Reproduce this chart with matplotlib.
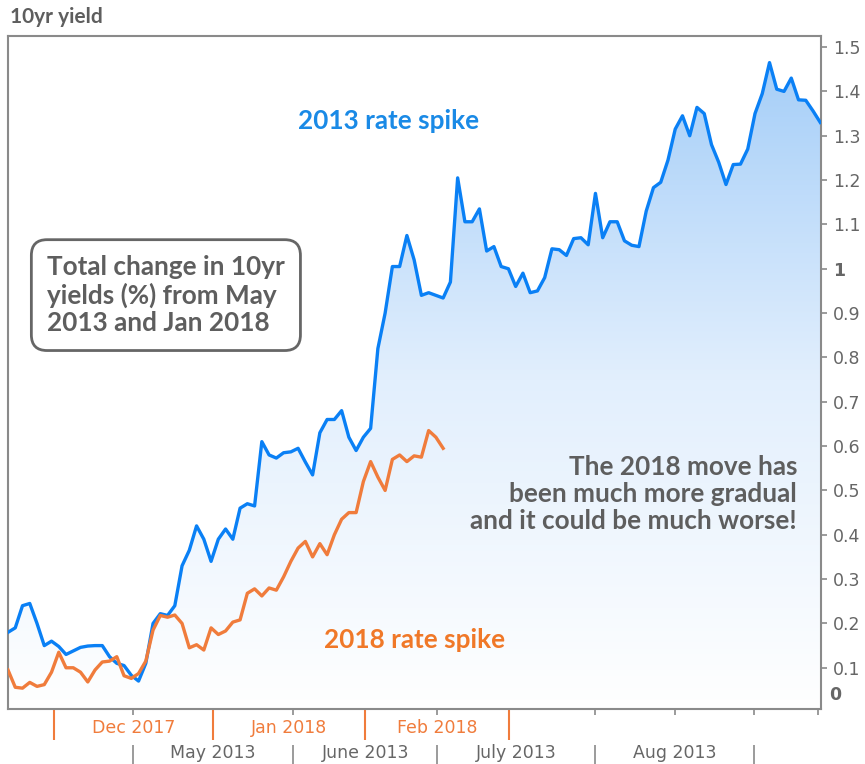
import numpy as np
import matplotlib
matplotlib.use('Agg')
import matplotlib.pyplot as plt
import matplotlib.transforms as mtransforms
from matplotlib.colors import LinearSegmentedColormap
from matplotlib.patches import PathPatch

# 10yr yield change (%) per trading day
blue_2013 = [
    0.18, 0.19, 0.24, 0.245, 0.20, 0.15, 0.16, 0.148, 0.13, 0.138,
    0.146, 0.149, 0.15, 0.15, 0.125, 0.11, 0.105, 0.083, 0.07, 0.11,
    0.20, 0.222, 0.218, 0.24, 0.33, 0.365, 0.42, 0.39, 0.34, 0.39,
    0.413, 0.39, 0.46, 0.47, 0.465, 0.61, 0.58, 0.573, 0.585, 0.587,
    0.595, 0.564, 0.535, 0.63, 0.66, 0.66, 0.68, 0.62, 0.59, 0.62,
    0.64, 0.82, 0.90, 1.005, 1.005, 1.075, 1.02, 0.94, 0.946, 0.94,
    0.934, 0.97, 1.205, 1.106, 1.106, 1.135, 1.04, 1.05, 1.005, 1.0,
    0.96, 0.99, 0.946, 0.95, 0.98, 1.045, 1.043, 1.03, 1.068, 1.07,
    1.054, 1.17, 1.07, 1.106, 1.106, 1.063, 1.053, 1.05, 1.13, 1.183,
    1.195, 1.245, 1.315, 1.345, 1.30, 1.364, 1.35, 1.28, 1.24, 1.19,
    1.235, 1.236, 1.27, 1.35, 1.395, 1.465, 1.405, 1.40, 1.43, 1.381,
    1.38, 1.356, 1.33,
]
orange_2018 = [
    0.095, 0.056, 0.054, 0.067, 0.058, 0.062, 0.09, 0.135, 0.10, 0.10,
    0.09, 0.068, 0.095, 0.113, 0.115, 0.125, 0.082, 0.076, 0.087, 0.115,
    0.185, 0.218, 0.214, 0.219, 0.20, 0.145, 0.152, 0.14, 0.19, 0.175,
    0.183, 0.203, 0.208, 0.268, 0.278, 0.262, 0.28, 0.275, 0.305, 0.34,
    0.37, 0.385, 0.35, 0.38, 0.355, 0.40, 0.435, 0.45, 0.45, 0.52,
    0.565, 0.53, 0.50, 0.57, 0.58, 0.565, 0.578, 0.575, 0.635, 0.62,
    0.595,
]

y_ticks = [0.1, 0.2, 0.3, 0.4, 0.5, 0.6, 0.7, 0.8, 0.9, 1.0, 1.1, 1.2, 1.3, 1.4, 1.5]

# month boundaries in trading-day units
ticks_2013_small = [17.2, 39.3, 59.2, 81.0, 91.9, 102.8, 111.7]
edges_2013 = [17.2, 39.3, 59.2, 81.0, 102.8]
labels_2013 = ['May 2013', 'June 2013', 'July 2013', 'Aug 2013']
edges_2018 = [6.3, 28.3, 49.2, 69.1]
labels_2018 = ['Dec 2017', 'Jan 2018', 'Feb 2018']

BLUE = '#0a80f5'
ORANGE = '#f07c3c'
GREY_TXT = '#5e5e5e'
FRAME = '#8a8a8a'
BOLD_FONT = ['Lato', 'DejaVu Sans']

fig = plt.figure(figsize=(8.65, 7.64), dpi=100)
ax = fig.add_axes([8 / 865, 55 / 764, 813 / 865, 673 / 764])

xb = np.arange(len(blue_2013))
xo = np.arange(len(orange_2018))

# gradient area under the 2013 line
poly = ax.fill_between(xb, 0, blue_2013, color='none', lw=0)
clip = PathPatch(poly.get_paths()[0], transform=ax.transData, fc='none', ec='none')
ax.add_patch(clip)
cmap = LinearSegmentedColormap.from_list('fade', ['#ffffff', '#e2effd', '#a3cdf8'])
grad = np.linspace(0, 1, 256).reshape(-1, 1)
im = ax.imshow(grad, extent=[0, len(blue_2013) - 1, 0, 1.5], origin='lower',
               aspect='auto', cmap=cmap, zorder=1)
im.set_clip_path(clip)

ax.plot(xb, blue_2013, color=BLUE, lw=2.4, zorder=3, solid_joinstyle='round')
ax.plot(xo, orange_2018, color=ORANGE, lw=2.4, zorder=4, solid_joinstyle='round')

ax.set_xlim(0, 112.1)
ax.set_ylim(0.007, 1.525)

for s in ax.spines.values():
    s.set_color(FRAME)
    s.set_linewidth(1.5)

# right hand y axis
ax.yaxis.tick_right()
ax.set_yticks(y_ticks)
ax.set_yticklabels(['1' if v == 1.0 else f'{v:.1f}' for v in y_ticks])
ax.tick_params(axis='y', length=4.5, width=1.2, color=FRAME, pad=4,
               labelsize=12.5, labelcolor='#666666')
for lbl in ax.get_yticklabels():
    if lbl.get_text() == '1':
        lbl.set_fontweight('bold')
ytrans = mtransforms.blended_transform_factory(ax.transAxes, ax.transData)
ax.text(1.0 + 8 / 813, 0.038, '0', transform=ytrans, fontsize=12.5,
        fontweight='bold', color='#666666', va='center', ha='left')

# bottom axis: short grey ticks
ax.set_xticks(ticks_2013_small)
ax.tick_params(axis='x', length=4, width=1.2, color=FRAME, labelbottom=False)

# 2018 month ticks (orange)
sec_o = ax.secondary_xaxis('bottom')
sec_o.spines['bottom'].set_visible(False)
sec_o.set_xticks(edges_2018)
sec_o.tick_params(which='major', length=22, width=1.5, color=ORANGE, labelbottom=False)
mids_o = [(a + b) / 2 for a, b in zip(edges_2018[:-1], edges_2018[1:])]
sec_o.set_xticks(mids_o, labels=labels_2018, minor=True)
sec_o.tick_params(which='minor', length=0, pad=7, labelsize=12.5, labelcolor=ORANGE)

# 2013 month separators (grey)
sec_g = ax.secondary_xaxis(-36 / 673)
sec_g.spines['bottom'].set_visible(False)
sec_g.set_xticks(edges_2013)
sec_g.tick_params(which='major', length=16, width=1.2, color=FRAME, labelbottom=False)
mids_g = [(a + b) / 2 for a, b in zip(edges_2013[:-1], edges_2013[1:])]
sec_g.set_xticks(mids_g, labels=labels_2013, minor=True)
sec_g.tick_params(which='minor', length=0, pad=-1, labelsize=12.5, labelcolor='#666666')

# annotations
fig.text(10 / 865, 1 - 17 / 764, '10yr yield', fontsize=15, fontweight='bold',
         color=GREY_TXT, family=BOLD_FONT, va='center', ha='left')

ax.text(0.4686, 0.8737, '2013 rate spike', transform=ax.transAxes, fontsize=18.8,
        fontweight='bold', color='#1a8ae6', family=BOLD_FONT, ha='center', va='center')
ax.text(0.5006, 0.1025, '2018 rate spike', transform=ax.transAxes, fontsize=18.8,
        fontweight='bold', color='#f07828', family=BOLD_FONT, ha='center', va='center')

ax.text(0.0480, 0.615, 'Total change in 10yr\nyields (%) from May\n2013 and Jan 2018',
        transform=ax.transAxes, fontsize=18.8, fontweight='bold', color=GREY_TXT,
        family=BOLD_FONT, ha='left', va='center', linespacing=1.15, zorder=6,
        bbox=dict(boxstyle='round,pad=0.6,rounding_size=0.6', fc='white',
                  ec='#666666', lw=2))

ax.text(0.9705, 0.3195, 'The 2018 move has\nbeen much more gradual\nand it could be much worse!',
        transform=ax.transAxes, fontsize=18.8, fontweight='bold', color=GREY_TXT,
        family=BOLD_FONT, ha='right', va='center', multialignment='right',
        linespacing=1.15, zorder=6)

fig.savefig('out.png', dpi=100)
